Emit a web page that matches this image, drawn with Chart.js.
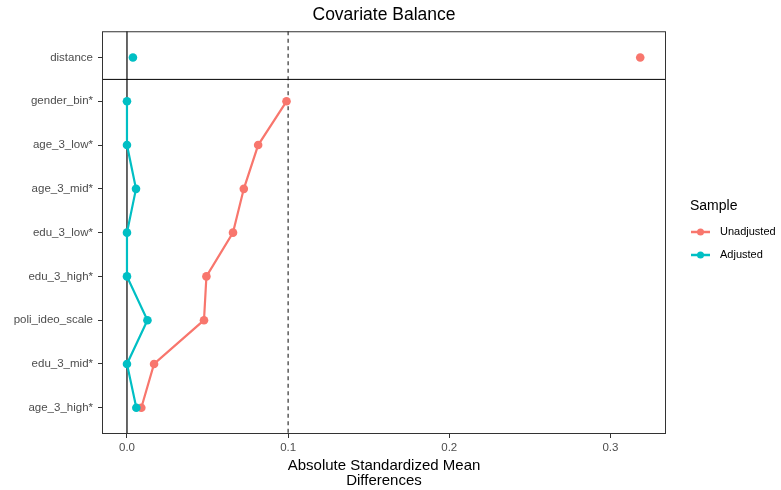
<!DOCTYPE html>
<html>
<head>
<meta charset="utf-8">
<script src="https://cdn.jsdelivr.net/npm/chart.js@4/dist/chart.umd.min.js"></script>
<style>
  html, body { margin: 0; padding: 0; background: #fff; }
  #wrap { width: 781px; height: 490px; position: relative; }
</style>
</head>
<body>
<div id="wrap"><canvas id="chart"></canvas></div>
<script>
// ===== Data =====
const covariates = ['distance', 'gender_bin*', 'age_3_low*', 'age_3_mid*', 'edu_3_low*', 'edu_3_high*', 'poli_ideo_scale', 'edu_3_mid*', 'age_3_high*'];
const unadjusted = [0.3185, 0.0990, 0.0814, 0.0725, 0.0658, 0.0493, 0.0478, 0.0168, 0.0089];
const adjusted = [0.0037, 0.0000, 0.0000, 0.0056, 0.0000, 0.0000, 0.0127, 0.0000, 0.0058];
const xTicks = [0.0, 0.1, 0.2, 0.3];
const threshold = 0.1;

const COL_UN = '#F8766D';
const COL_ADJ = '#00BFC4';
const FONT = "'Liberation Sans', Arial, sans-serif";

Chart.defaults.font.family = FONT;
Chart.defaults.color = '#4D4D4D';

function toPoints(values) {
  return values.map((v, i) => ({ x: v, y: i }));
}

// distance is not joined to the covariates below it
const noDistanceSegment = {
  borderColor: (ctx) => (ctx.p0DataIndex === 0 ? 'transparent' : undefined),
};

// reference lines, panel border and legend
const decorations = {
  id: 'decorations',
  beforeDatasetsDraw(chart) {
    const { ctx, chartArea: a, scales: { x, y } } = chart;
    ctx.save();
    // zero line
    ctx.strokeStyle = '#000';
    ctx.lineWidth = 1.2;
    ctx.beginPath();
    ctx.moveTo(x.getPixelForValue(0), a.top);
    ctx.lineTo(x.getPixelForValue(0), a.bottom);
    ctx.stroke();
    // threshold
    ctx.strokeStyle = '#333';
    ctx.setLineDash([4, 3.5]);
    ctx.beginPath();
    ctx.moveTo(x.getPixelForValue(threshold), a.top);
    ctx.lineTo(x.getPixelForValue(threshold), a.bottom);
    ctx.stroke();
    ctx.setLineDash([]);
    // separator under distance
    ctx.strokeStyle = '#000';
    ctx.lineWidth = 1;
    const ys = y.getPixelForValue(0.5);
    ctx.beginPath();
    ctx.moveTo(a.left, ys);
    ctx.lineTo(a.right, ys);
    ctx.stroke();
    ctx.restore();
  },
  afterDraw(chart) {
    const { ctx, chartArea: a } = chart;
    ctx.save();
    ctx.strokeStyle = '#333';
    ctx.lineWidth = 1;
    ctx.strokeRect(a.left + 0.5, a.top + 0.5, a.right - a.left - 1, a.bottom - a.top - 1);

    // legend
    const lx = a.right + 24;
    ctx.fillStyle = '#000';
    ctx.font = '14px ' + FONT;
    ctx.textBaseline = 'middle';
    ctx.fillText('Sample', lx, 206);
    const items = [['Unadjusted', COL_UN, 232], ['Adjusted', COL_ADJ, 255]];
    for (const [label, color, yy] of items) {
      ctx.strokeStyle = color;
      ctx.lineWidth = 2.5;
      ctx.beginPath();
      ctx.moveTo(lx + 1, yy);
      ctx.lineTo(lx + 20, yy);
      ctx.stroke();
      ctx.fillStyle = color;
      ctx.beginPath();
      ctx.arc(lx + 10.5, yy, 3.5, 0, Math.PI * 2);
      ctx.fill();
      ctx.fillStyle = '#000';
      ctx.font = '11px ' + FONT;
      ctx.fillText(label, lx + 30, yy);
    }
    ctx.restore();
  },
};

new Chart(document.getElementById('chart'), {
  type: 'scatter',
  data: {
    datasets: [
      {
        label: 'Unadjusted',
        data: toPoints(unadjusted),
        showLine: true,
        borderColor: COL_UN,
        backgroundColor: COL_UN,
        borderWidth: 2.2,
        pointRadius: 4.3,
        pointBorderWidth: 0,
        segment: noDistanceSegment,
        order: 1,
      },
      {
        label: 'Adjusted',
        data: toPoints(adjusted),
        showLine: true,
        borderColor: COL_ADJ,
        backgroundColor: COL_ADJ,
        borderWidth: 2.2,
        pointRadius: 4.3,
        pointBorderWidth: 0,
        segment: noDistanceSegment,
        order: 0,
      },
    ],
  },
  options: {
    responsive: true,
    maintainAspectRatio: false,
    animation: false,
    layout: { padding: { left: 0, right: 115, top: 0, bottom: 0 } },
    plugins: {
      legend: { display: false },
      tooltip: { enabled: false },
      title: {
        display: true,
        text: 'Covariate Balance',
        fullSize: false,
        color: '#000',
        font: { size: 17.5, weight: 'normal', lineHeight: 1.1 },
        padding: { top: 6, bottom: 6 },
      },
    },
    scales: {
      x: {
        type: 'linear',
        min: -0.0155,
        max: 0.3345,
        afterBuildTicks: (scale) => { scale.ticks = xTicks.map(v => ({ value: v })); },
        afterFit: (scale) => { scale.height = 56; },
        grid: { drawOnChartArea: false, drawTicks: true, tickLength: 4, color: '#333' },
        border: { display: false },
        ticks: {
          padding: 3,
          color: '#4D4D4D',
          font: { size: 11.5 },
          maxRotation: 0,
          callback: (v) => v.toFixed(1),
        },
        title: {
          display: true,
          text: ['Absolute Standardized Mean', 'Differences'],
          color: '#000',
          font: { size: 15, lineHeight: 1.05 },
          padding: { top: 0, bottom: 1 },
        },
      },
      y: {
        type: 'linear',
        reverse: true,
        min: -0.6,
        max: covariates.length - 1 + 0.6,
        afterBuildTicks: (scale) => { scale.ticks = covariates.map((c, i) => ({ value: i })); },
        afterFit: (scale) => { scale.width = 102; },
        grid: { drawOnChartArea: false, drawTicks: true, tickLength: 4, color: '#333' },
        border: { display: false },
        ticks: {
          padding: 5,
          color: '#4D4D4D',
          font: { size: 11.5 },
          callback: (v) => covariates[v],
        },
      },
    },
  },
  plugins: [decorations],
});
</script>
</body>
</html>
